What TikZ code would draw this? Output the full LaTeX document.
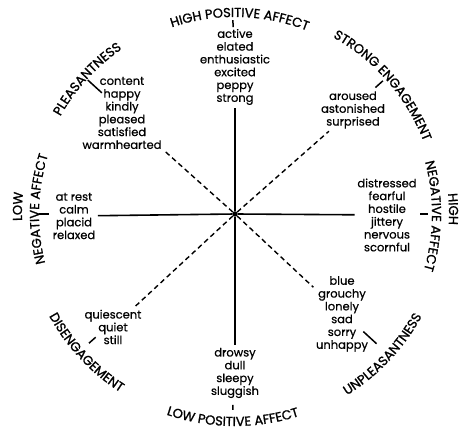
\documentclass[tikz,border=0pt]{standalone}
\usepackage{fontspec}
\setmainfont{Poppins}
\newfontfamily\listface{Poppins}[FakeBold=0.6]
\newfontfamily\capface{Poppins}[FakeBold=1.2]
\usetikzlibrary{decorations.text}

\newcommand{\wordfont}{\listface\fontsize{11.5}{12.8}\selectfont}
\newcommand{\capfont}{\capface\fontsize{13}{15}\selectfont}

% caption on the rim, read clockwise (letters face outward)
\newcommand{\rimtextcw}[3]{%
  \path[decorate, decoration={text along path, text align=center, text={|\capfont|#3}}]
    (#1+80:#2) arc[start angle=#1+80, end angle=#1-80, radius=#2];}
% caption on the lower rim, read counter-clockwise (letters face inward)
\newcommand{\rimtextccw}[3]{%
  \path[decorate, decoration={text along path, text align=center, text={|\capfont|#3}}]
    (#1-80:#2) arc[start angle=#1-80, end angle=#1+80, radius=#2];}

\begin{document}
\begin{tikzpicture}[x=1pt, y=1pt,
  words/.style={align=center, font=\wordfont, inner sep=2.5pt},
  axis/.style={line width=1.6pt},
  spoke/.style={line width=1.4pt, dash pattern=on 5pt off 3.5pt},
  tick/.style={line width=1.5pt}]
  \useasboundingbox (-235,-216) rectangle (226,214);
  \node[circle, fill, inner sep=0pt, minimum size=5.5pt] (c) at (0,0) {};
  % word lists
  \node[words] (hpa-list) at (0,147) {active\\elated\\enthusiastic\\excited\\peppy\\strong};
  \node[words] (se-list) at (118,104) {aroused\\astonished\\surprised};
  \node[words] (hna-list) at (152,-1) {distressed\\fearful\\hostile\\jittery\\nervous\\scornful};
  \node[words] (unp-list) at (107,-100) {blue\\grouchy\\lonely\\sad\\sorry\\unhappy};
  \node[words] (lpa-list) at (0,-159) {drowsy\\dull\\sleepy\\sluggish};
  \node[words] (dis-list) at (-122,-113) {quiescent\\quiet\\still};
  \node[words] (lna-list) at (-161,-2) {at rest\\calm\\placid\\relaxed};
  \node[words] (pl-list) at (-113,101) {content\\happy\\kindly\\pleased\\satisfied\\warmhearted};
  % axes and dashed spokes
  \foreach \d in {hpa,hna,lpa,lna} \draw[axis] (c) -- (\d-list);
  \foreach \d in {se,unp,dis,pl} \draw[spoke] (c) -- (\d-list);
  % short ticks toward the rim
  \foreach \d/\a/\ri/\ro in {hpa/90.6/187/194, se/42/189/199, hna/0/185/193,
      unp/-42.5/174/192, lpa/269.4/191/196, dis/221.5/186/195,
      lna/180/186/196, pl/137.7/180/199} {
    \coordinate (\d-in) at (\a:\ri);
    \coordinate (\d-out) at (\a:\ro);
    \draw[tick] (\d-in) -- (\d-out);
  }
  % rim captions
  \rimtextcw{88.6}{197}{HIGH POSITIVE AFFECT}
  \rimtextcw{41}{202}{STRONG ENGAGEMENT}
  \rimtextcw{137.6}{200}{PLEASANTNESS}
  \rimtextcw{1.3}{214}{HIGH}
  \rimtextcw{-0.6}{197}{NEGATIVE AFFECT}
  \rimtextcw{178}{213}{LOW}
  \rimtextcw{178.5}{196}{NEGATIVE AFFECT}
  \rimtextccw{269.4}{212}{LOW POSITIVE AFFECT}
  \rimtextccw{316.5}{213}{UNPLEASANTNESS}
  \rimtextccw{223}{212}{DISENGAGEMENT}
\end{tikzpicture}
\end{document}
